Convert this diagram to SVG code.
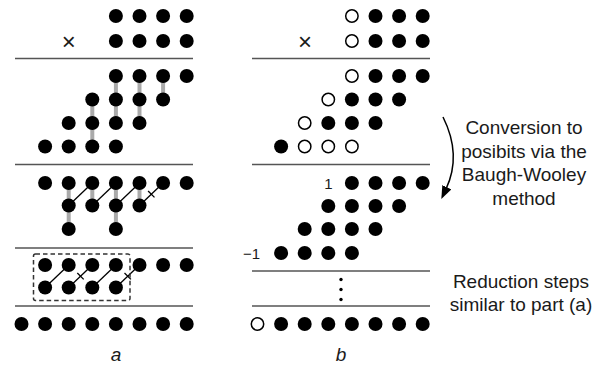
<svg xmlns="http://www.w3.org/2000/svg" xmlns:xlink="http://www.w3.org/1999/xlink" width="603" height="371" viewBox="0 0 603 371">
  <defs>
    <style>
      .rule { stroke: #555; stroke-width: 1.6; fill: none; }
      .bar { stroke: #aaa; stroke-width: 4; fill: none; }
      .diag { stroke: #000; stroke-width: 1.3; fill: none; }
      .lbl { font-family: "Liberation Sans", Arial, sans-serif; font-size: 15px; fill: #1a1a1a; }
      .note { font-family: "Liberation Sans", Arial, sans-serif; font-size: 19px; fill: #1a1a1a; text-anchor: middle; }
      .cap { font-family: "Liberation Sans", Arial, sans-serif; font-size: 19px; font-style: italic; fill: #1a1a1a; text-anchor: middle; }
      .times { font-family: "Liberation Sans", Arial, sans-serif; font-size: 24px; fill: #1a1a1a; text-anchor: middle; }
    </style>
    <circle id="d" r="7" fill="#000"/>
    <circle id="o" r="6.2" fill="#fff" stroke="#000" stroke-width="1.5"/>
    <marker id="ah" markerUnits="userSpaceOnUse" markerWidth="14" markerHeight="12" refX="2" refY="5" orient="auto">
      <path d="M0,0 L13,5 L0,10 Z" fill="#000"/>
    </marker>
  </defs>

  <rect width="603" height="371" fill="#fff"/>

  <!-- horizontal separators -->
  <g id="rules">
    <line class="rule" x1="15" y1="58.5" x2="193" y2="58.5"/>
    <line class="rule" x1="15" y1="164.5" x2="193" y2="164.5"/>
    <line class="rule" x1="15" y1="248" x2="193" y2="248"/>
    <line class="rule" x1="15" y1="306" x2="193" y2="306"/>
    <line class="rule" x1="252" y1="58.5" x2="430" y2="58.5"/>
    <line class="rule" x1="252" y1="164.5" x2="430" y2="164.5"/>
    <line class="rule" x1="252" y1="271" x2="430" y2="271"/>
    <line class="rule" x1="252" y1="306" x2="430" y2="306"/>
  </g>

  <!-- connectors: adder groupings, carry links, conversion arrow -->
  <g id="connectors">
    <line class="bar" x1="115.9" y1="76" x2="115.9" y2="123"/>
    <line class="bar" x1="139.5" y1="76" x2="139.5" y2="123"/>
    <line class="bar" x1="163.1" y1="76" x2="163.1" y2="99.5"/>
    <line class="bar" x1="92.3" y1="99.5" x2="92.3" y2="146.5"/>

    <line class="bar" x1="68.7" y1="183" x2="68.7" y2="229"/>
    <line class="bar" x1="92.3" y1="183" x2="92.3" y2="205.5"/>
    <line class="bar" x1="115.9" y1="183" x2="115.9" y2="229"/>
    <line class="bar" x1="139.5" y1="183" x2="139.5" y2="205.5"/>

    <line class="diag" x1="68.7" y1="205.5" x2="92.3" y2="183"/>
    <line class="diag" x1="92.3" y1="205.5" x2="115.9" y2="183"/>
    <line class="diag" x1="115.9" y1="205.5" x2="139.5" y2="183"/>
    <line class="diag" x1="139.5" y1="205.5" x2="163.1" y2="183"/>
    <line class="diag" x1="148.1" y1="191" x2="154.5" y2="197.4"/>

    <line class="diag" x1="45.1" y1="287.5" x2="68.7" y2="265"/>
    <line class="diag" x1="68.7" y1="287.5" x2="92.3" y2="265"/>
    <line class="diag" x1="77.3" y1="273" x2="83.7" y2="279.4"/>
    <line class="diag" x1="92.3" y1="287.5" x2="115.9" y2="265"/>
    <line class="diag" x1="115.9" y1="287.5" x2="139.5" y2="265"/>
    <line class="diag" x1="124.5" y1="273" x2="130.9" y2="279.4"/>

    <rect x="33.5" y="254" width="96.5" height="46.5" rx="2" fill="none" stroke="#333" stroke-width="1.5" stroke-dasharray="4.5 3"/>

    <path d="M443,117 Q462,155 446,189" fill="none" stroke="#000" stroke-width="1.5" marker-end="url(#ah)"/>
  </g>

  <!-- (a) dot diagram -->
  <g id="a-operands">
    <use href="#d" x="115.9" y="16"/><use href="#d" x="139.5" y="16"/><use href="#d" x="163.1" y="16"/><use href="#d" x="186.7" y="16"/>
    <use href="#d" x="115.9" y="41"/><use href="#d" x="139.5" y="41"/><use href="#d" x="163.1" y="41"/><use href="#d" x="186.7" y="41"/>
    <text class="times" x="68.7" y="49.5">×</text>
  </g>
  <g id="a-partials">
    <use href="#d" x="115.9" y="76"/><use href="#d" x="139.5" y="76"/><use href="#d" x="163.1" y="76"/><use href="#d" x="186.7" y="76"/>
    <use href="#d" x="92.3" y="99.5"/><use href="#d" x="115.9" y="99.5"/><use href="#d" x="139.5" y="99.5"/><use href="#d" x="163.1" y="99.5"/>
    <use href="#d" x="68.7" y="123"/><use href="#d" x="92.3" y="123"/><use href="#d" x="115.9" y="123"/><use href="#d" x="139.5" y="123"/>
    <use href="#d" x="45.1" y="146.5"/><use href="#d" x="68.7" y="146.5"/><use href="#d" x="92.3" y="146.5"/><use href="#d" x="115.9" y="146.5"/>
  </g>
  <g id="a-stage1">
    <use href="#d" x="45.1" y="183"/><use href="#d" x="68.7" y="183"/><use href="#d" x="92.3" y="183"/><use href="#d" x="115.9" y="183"/><use href="#d" x="139.5" y="183"/><use href="#d" x="163.1" y="183"/><use href="#d" x="186.7" y="183"/>
    <use href="#d" x="68.7" y="205.5"/><use href="#d" x="92.3" y="205.5"/><use href="#d" x="115.9" y="205.5"/><use href="#d" x="139.5" y="205.5"/>
    <use href="#d" x="68.7" y="229"/><use href="#d" x="115.9" y="229"/>
  </g>
  <g id="a-stage2">
    <use href="#d" x="45.1" y="265"/><use href="#d" x="68.7" y="265"/><use href="#d" x="92.3" y="265"/><use href="#d" x="115.9" y="265"/><use href="#d" x="139.5" y="265"/><use href="#d" x="163.1" y="265"/><use href="#d" x="186.7" y="265"/>
    <use href="#d" x="45.1" y="287.5"/><use href="#d" x="68.7" y="287.5"/><use href="#d" x="92.3" y="287.5"/><use href="#d" x="115.9" y="287.5"/>
  </g>
  <g id="a-result">
    <use href="#d" x="21.5" y="324"/><use href="#d" x="45.1" y="324"/><use href="#d" x="68.7" y="324"/><use href="#d" x="92.3" y="324"/><use href="#d" x="115.9" y="324"/><use href="#d" x="139.5" y="324"/><use href="#d" x="163.1" y="324"/><use href="#d" x="186.7" y="324"/>
    <text class="cap" x="116" y="361">a</text>
  </g>

  <!-- (b) dot diagram -->
  <g id="b-operands">
    <use href="#o" x="351.9" y="16"/><use href="#d" x="375.5" y="16"/><use href="#d" x="399.1" y="16"/><use href="#d" x="422.7" y="16"/>
    <use href="#o" x="351.9" y="41"/><use href="#d" x="375.5" y="41"/><use href="#d" x="399.1" y="41"/><use href="#d" x="422.7" y="41"/>
    <text class="times" x="305" y="49.5">×</text>
  </g>
  <g id="b-partials">
    <use href="#o" x="351.9" y="76"/><use href="#d" x="375.5" y="76"/><use href="#d" x="399.1" y="76"/><use href="#d" x="422.7" y="76"/>
    <use href="#o" x="328.3" y="99.5"/><use href="#d" x="351.9" y="99.5"/><use href="#d" x="375.5" y="99.5"/><use href="#d" x="399.1" y="99.5"/>
    <use href="#o" x="304.7" y="123"/><use href="#d" x="328.3" y="123"/><use href="#d" x="351.9" y="123"/><use href="#d" x="375.5" y="123"/>
    <use href="#d" x="281.1" y="146.5"/><use href="#o" x="304.7" y="146.5"/><use href="#o" x="328.3" y="146.5"/><use href="#o" x="351.9" y="146.5"/>
  </g>
  <g id="b-posibits">
    <text class="lbl" x="328.3" y="188.5" text-anchor="middle">1</text>
    <use href="#d" x="351.9" y="183"/><use href="#d" x="375.5" y="183"/><use href="#d" x="399.1" y="183"/><use href="#d" x="422.7" y="183"/>
    <use href="#d" x="328.3" y="206"/><use href="#d" x="351.9" y="206"/><use href="#d" x="375.5" y="206"/><use href="#d" x="399.1" y="206"/>
    <use href="#d" x="304.7" y="229"/><use href="#d" x="328.3" y="229"/><use href="#d" x="351.9" y="229"/><use href="#d" x="375.5" y="229"/>
    <text class="lbl" x="260" y="258.5" text-anchor="end">−1</text>
    <use href="#d" x="281.1" y="253"/><use href="#d" x="304.7" y="253"/><use href="#d" x="328.3" y="253"/><use href="#d" x="351.9" y="253"/>
  </g>
  <g id="b-ellipsis">
    <circle cx="341" cy="279.5" r="1.7" fill="#000"/>
    <circle cx="341" cy="289.5" r="1.7" fill="#000"/>
    <circle cx="341" cy="299.5" r="1.7" fill="#000"/>
  </g>
  <g id="b-result">
    <use href="#o" x="257.5" y="324"/><use href="#d" x="281.1" y="324"/><use href="#d" x="304.7" y="324"/><use href="#d" x="328.3" y="324"/><use href="#d" x="351.9" y="324"/><use href="#d" x="375.5" y="324"/><use href="#d" x="399.1" y="324"/><use href="#d" x="422.7" y="324"/>
    <text class="cap" x="341" y="361">b</text>
  </g>

  <!-- side notes -->
  <g id="note-conversion">
    <text class="note" x="524" y="134">Conversion to</text>
    <text class="note" x="524" y="157.5">posibits via the</text>
    <text class="note" x="524" y="181">Baugh-Wooley</text>
    <text class="note" x="524" y="204.5">method</text>
  </g>
  <g id="note-reduction">
    <text class="note" x="521" y="288">Reduction steps</text>
    <text class="note" x="521" y="311">similar to part (a)</text>
  </g>
</svg>
